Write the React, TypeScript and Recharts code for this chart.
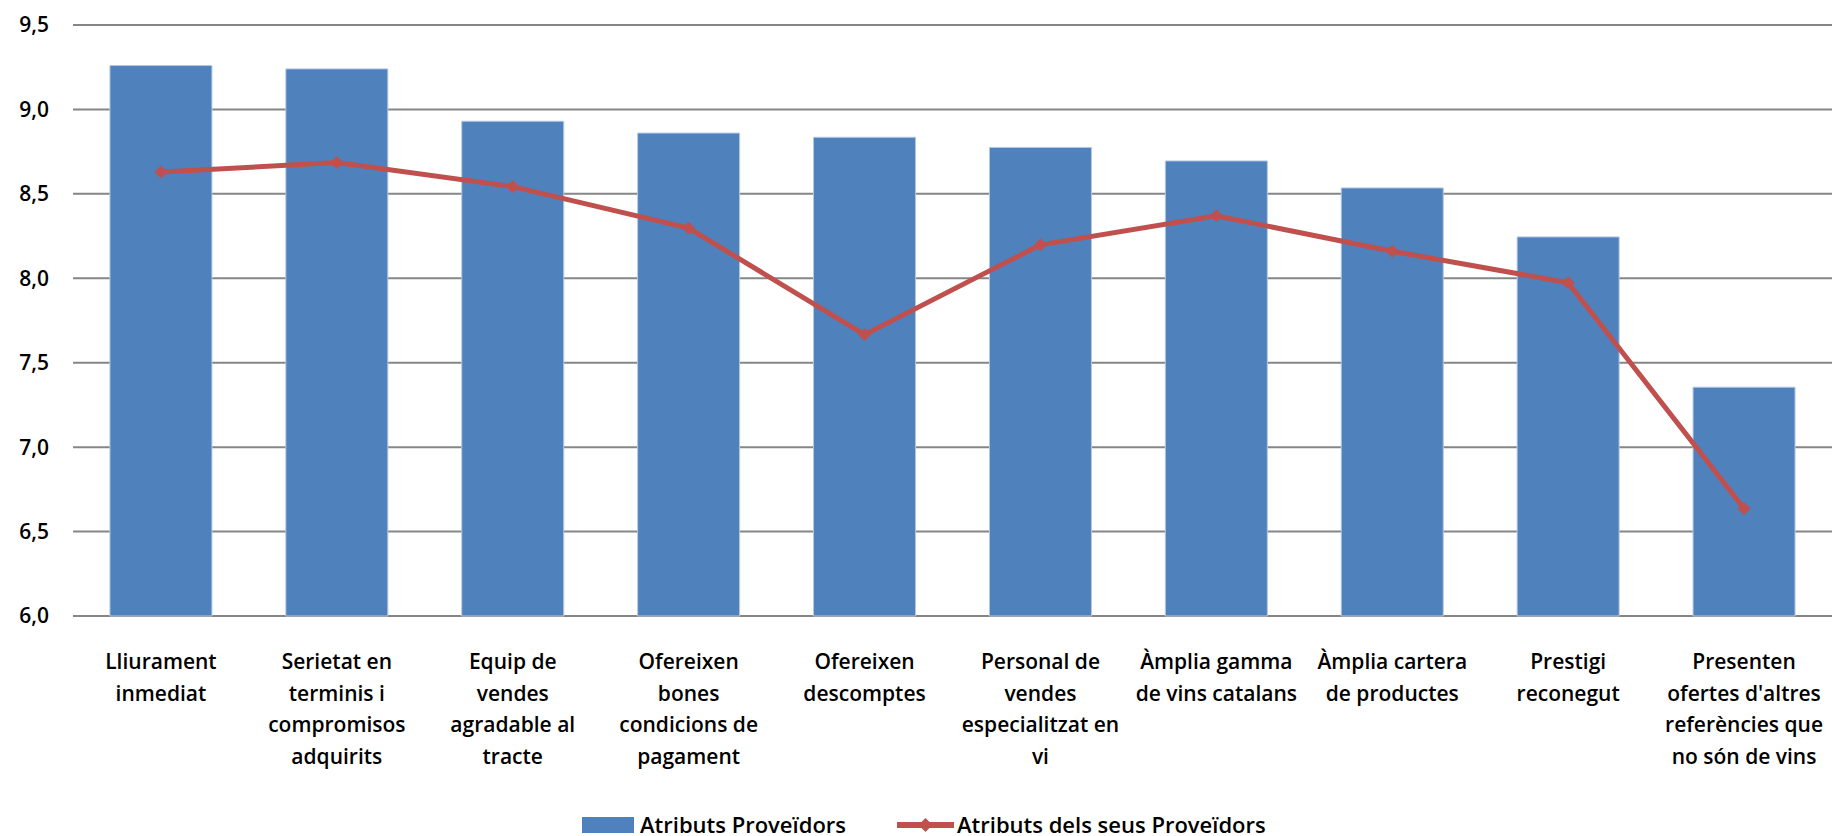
import { ComposedChart, Bar, Line, XAxis, YAxis, CartesianGrid, Legend } from "recharts";

const categories = [
  "Lliurament\ninmediat",
  "Serietat en\nterminis i\ncompromisos\nadquirits",
  "Equip de\nvendes\nagradable al\ntracte",
  "Ofereixen\nbones\ncondicions de\npagament",
  "Ofereixen\ndescomptes",
  "Personal de\nvendes\nespecialitzat en\nvi",
  "Àmplia gamma\nde vins catalans",
  "Àmplia cartera\nde productes",
  "Prestigi\nreconegut",
  "Presenten\nofertes d'altres\nreferències que\nno són de vins",
];

const atributsProveidors = [9.26, 9.24, 8.93, 8.86, 8.835, 8.775, 8.695, 8.535, 8.245, 7.355];
const atributsSeusProveidors = [8.63, 8.685, 8.543, 8.297, 7.666, 8.198, 8.37, 8.16, 7.974, 6.636];

const yTicks = [6, 6.5, 7, 7.5, 8, 8.5, 9, 9.5];

const data = categories.map((c, i) => ({
  name: c,
  prov: atributsProveidors[i],
  seus: atributsSeusProveidors[i],
}));

const FONT = "'Open Sans', sans-serif";
const WEIGHT = 600;
const BLUE = "#4F81BD";
const RED = "#C0504D";

function CategoryTick(props: any) {
  const { x, y, payload } = props;
  const lines = String(payload.value).split("\n");
  return (
    <text x={x} y={y} textAnchor="middle" fontFamily={FONT} fontWeight={WEIGHT} fontSize={21} fill="#000">
      {lines.map((l, i) => (
        <tspan key={i} x={x} dy={i === 0 ? 53 : 31.7}>
          {l}
        </tspan>
      ))}
    </text>
  );
}

function Diamond(props: any) {
  const { cx, cy } = props;
  if (cx == null || cy == null) return null;
  const s = 6;
  return (
    <polygon
      points={`${cx},${cy - s} ${cx + s},${cy} ${cx},${cy + s} ${cx - s},${cy}`}
      fill={RED}
      stroke={RED}
    />
  );
}

const legendText = {
  position: "absolute" as const,
  top: 6,
  lineHeight: "24px",
  whiteSpace: "nowrap" as const,
};

function LegendContent() {
  return (
    <div
      style={{
        fontFamily: FONT,
        fontWeight: WEIGHT,
        fontSize: 22,
        color: "#000",
        height: 30,
        position: "relative",
      }}
    >
      <span style={{ position: "absolute", left: 582, top: 11, width: 52, height: 16, background: BLUE }} />
      <span style={{ ...legendText, left: 640 }}>Atributs Proveïdors</span>
      <svg width={57} height={16} style={{ position: "absolute", left: 897, top: 11 }}>
        <line x1={0} y1={8} x2={57} y2={8} stroke={RED} strokeWidth={6} />
        <polygon points="28.5,1 35.5,8 28.5,15 21.5,8" fill={RED} />
      </svg>
      <span style={{ ...legendText, left: 957 }}>Atributs dels seus Proveïdors</span>
    </div>
  );
}

export default function App() {
  return (
    <div style={{ position: "absolute", left: 0, top: 0, width: 1832, height: 836, background: "#fff" }}>
      <ComposedChart
        width={1832}
        height={836}
        data={data}
        margin={{ top: 25, right: 0, bottom: 0, left: 0 }}
        barCategoryGap="21%"
      >
        <CartesianGrid vertical={false} stroke="#868686" strokeWidth={2} />
        <XAxis
          dataKey="name"
          axisLine={false}
          tickLine={false}
          tickSize={0}
          tickMargin={0}
          height={190}
          interval={0}
          tick={<CategoryTick />}
        />
        <YAxis
          domain={[6, 9.5]}
          ticks={yTicks}
          axisLine={false}
          tickLine={false}
          tickSize={0}
          tickMargin={24}
          width={73}
          tick={{ fontFamily: FONT, fontWeight: WEIGHT, fontSize: 21, fill: "#000" }}
          tickFormatter={(v: number) => v.toFixed(1).replace(".", ",")}
        />
        <Legend verticalAlign="bottom" height={30} content={<LegendContent />} />
        <Bar dataKey="prov" name="Atributs Proveïdors" fill={BLUE} stroke="#B4C8E4" strokeWidth={1} isAnimationActive={false} />
        <Line
          dataKey="seus"
          name="Atributs dels seus Proveïdors"
          type="linear"
          stroke={RED}
          strokeWidth={5}
          dot={<Diamond />}
          activeDot={false}
          isAnimationActive={false}
        />
      </ComposedChart>
    </div>
  );
}
